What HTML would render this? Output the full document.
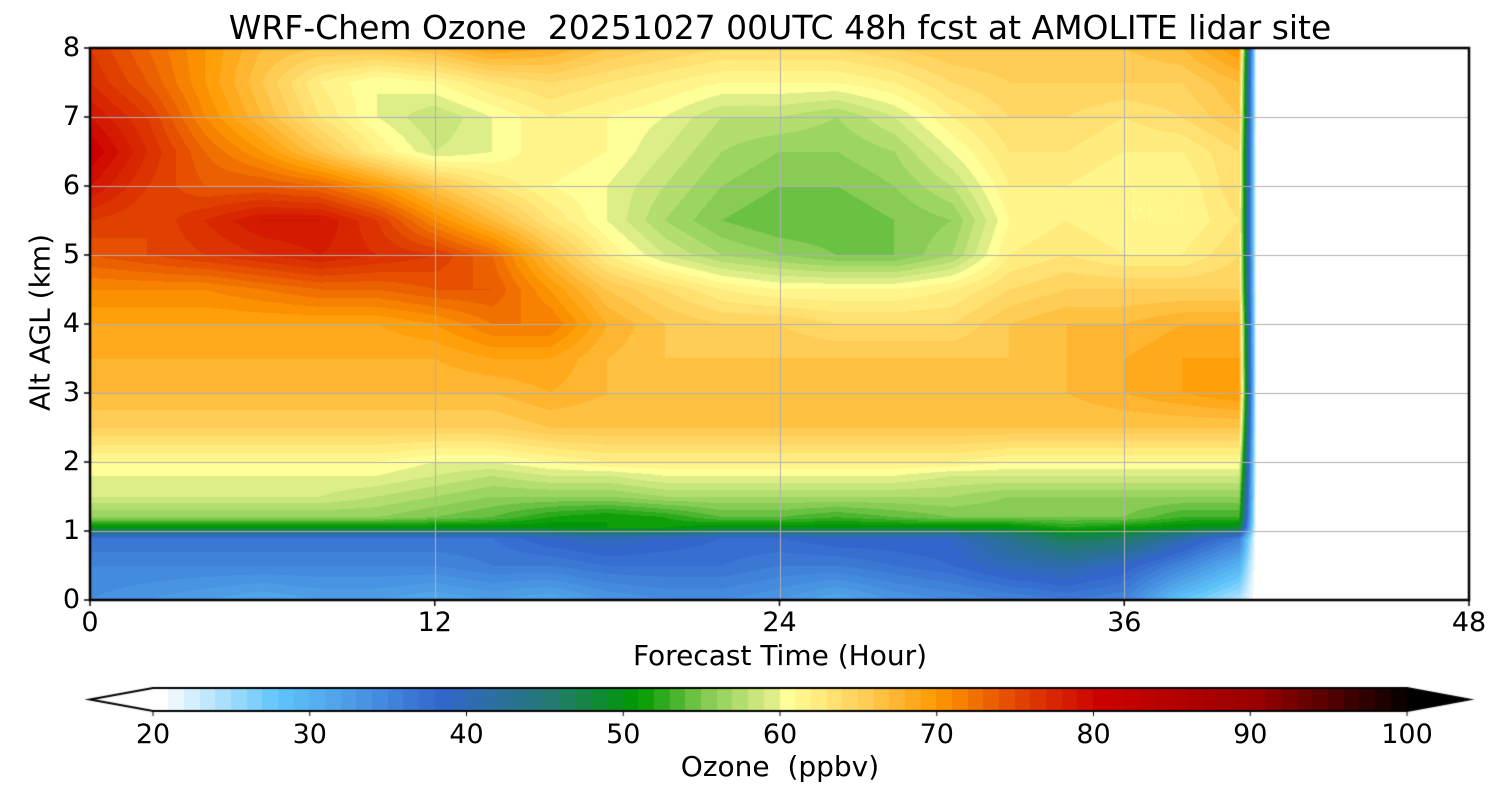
<!DOCTYPE html>
<html><head><meta charset="utf-8"><style>
body{margin:0;background:#fff;width:1500px;height:800px;overflow:hidden;font-family:"DejaVu Sans","Liberation Sans",sans-serif}
.t{position:absolute;color:#000;white-space:nowrap;font-family:"DejaVu Sans","Liberation Sans",sans-serif}
</style></head><body>
<div class="t" style="left:0;width:1560px;text-align:center;top:8px;font-size:33px">WRF-Chem Ozone&nbsp; 20251027 00UTC 48h fcst at AMOLITE lidar site</div>
<canvas id="c" width="1500" height="800" style="position:absolute;left:0;top:0"></canvas>
<div id="labels"></div>
<script>
const hours=[0,2,4,6,8,10,12,14,16,18,20,22,24,26,28,30,32,34,36,38,40,40.6];
const alts=[0,0.5,0.9,1.05,1.2,1.5,1.8,2,2.5,3,3.5,4,4.5,5,5.5,6,6.5,7,7.5,8];
const ozone=[
[34,33,32,31,32,32,31,32,31,33,34,34,33,31,33,34,35,36,35,28,24,20],
[35,35,35,35,35,35,35,36,36,37,37,37,36,36,37,38,40,41,39,35,30,20],
[37,37,37,37,37,37,37,37,39,40,39,38,38,39,39,39,43,47,46,41,36,20],
[50,50,50,50,50,50,50,50,50,51,51,50,50,50,50,50,50,52,51,50,49,20],
[56,56,56,56,56,56,55,54,52,51,52,54,54,53,54,55,55,55,55,53,53,20],
[59,59,59,59,59,58,57,56,56,56,57,57,57,57,57,57,56,56,56,56,56,20],
[60,60,60,60,60,60,59,58,59,59,60,60,60,60,60,59,59,59,59,59,59,20],
[61,61,61,61,61,61,60,60,61,62,62,62,62,62,62,62,61,61,61,61,61,20],
[65,65,65,65,65,65,65,65,66,66,66,66,66,66,66,66,66,66,66,66,66,20],
[67,67,67,67,67,67,67,67,68,67,67,67,67,67,67,67,67,67,68,69,70,20],
[68,68,68,68,68,68,68,69,69,67,66,66,66,66,66,66,66,67,68,69,69,20],
[69,69,69,69,69,69,70,72,72,68,66,65,65,64,64,64,66,67,67,68,68,20],
[71,71,71,72,73,73,74,74,70,66,64,62,61,61,61,62,64,65,65,65,65,20],
[74,75,76,77,78,77,76,73,67,62,59,57,56,55,55,57,62,63,62,62,64,20],
[76,75,77,79,79,76,71,67,63,60,57,55,54,54,55,56,61,62,61,61,63,20],
[79,76,74,74,73,70,66,63,61,60,58,56,55,55,56,58,62,62,61,61,64,20],
[81,77,73,70,66,62,59,60,62,61,59,57,56,56,57,60,63,63,62,62,64,20],
[79,76,71,67,63,60,58,60,62,61,60,58,58,57,59,62,64,64,63,64,66,20],
[77,74,70,66,62,60,61,63,64,63,62,61,61,61,62,64,65,65,65,65,67,20],
[76,73,70,67,66,66,67,69,68,66,65,64,64,64,65,66,66,66,66,67,70,20]];
const xTicks=[0,12,24,36,48];
const yTicks=[0,1,2,3,4,5,6,7,8];
const cbTicks=[20,30,40,50,60,70,80,90,100];
const stops=[[20,[255,255,255]],[27.5,[95,197,250]],[38,[51,102,204]],[45,[34,122,112]],[50.5,[0,153,0]],[55,[136,204,85]],[59,[221,238,136]],[60,[255,255,153]],[65,[255,204,85]],[69.5,[255,153,0]],[75,[224,64,0]],[80,[204,0,0]],[90,[153,0,0]],[100,[0,0,0]]];
function cmap(v){v=Math.max(20,Math.min(100,v));for(let i=1;i<stops.length;i++){if(v<=stops[i][0]){const a=stops[i-1],b=stops[i],t=(v-a[0])/(b[0]-a[0]);return a[1].map((c,k)=>Math.round(c+(b[1][k]-c)*t));}}return [0,0,0];}
const L=90,R=1469,T=48,B=600;
const X=h=>L+(h/48)*(R-L), Y=a=>B-(a/8)*(B-T);
function idx(arr,v){let i=0;while(i<arr.length-2&&v>arr[i+1])i++;return i;}
function val(h,a){const i=idx(hours,h),j=idx(alts,a);
const fx=Math.min(1,Math.max(0,(h-hours[i])/(hours[i+1]-hours[i]))),fy=Math.min(1,Math.max(0,(a-alts[j])/(alts[j+1]-alts[j])));
return ozone[j][i]*(1-fx)*(1-fy)+ozone[j][i+1]*fx*(1-fy)+ozone[j+1][i]*(1-fx)*fy+ozone[j+1][i+1]*fx*fy;}
const cv=document.getElementById('c'),ctx=cv.getContext('2d');
const img=ctx.createImageData(R-L,B-T);
const hEnd=hours[hours.length-1];
for(let py=0;py<B-T;py++){const a=(B-T-py-0.5)/(B-T)*8;for(let px=0;px<R-L;px++){const h=(px+0.5)/(R-L)*48;let c=[255,255,255];if(h<=hEnd){c=cmap(Math.floor(val(h,a)));}const o=(py*(R-L)+px)*4;img.data[o]=c[0];img.data[o+1]=c[1];img.data[o+2]=c[2];img.data[o+3]=255;}}
ctx.putImageData(img,L,T);
ctx.strokeStyle='#b0b0b0';ctx.lineWidth=1;
xTicks.forEach(h=>{ctx.beginPath();ctx.moveTo(Math.round(X(h))+0.5,T);ctx.lineTo(Math.round(X(h))+0.5,B);ctx.stroke();});
yTicks.forEach(a=>{ctx.beginPath();ctx.moveTo(L,Math.round(Y(a))+0.5);ctx.lineTo(R,Math.round(Y(a))+0.5);ctx.stroke();});
ctx.strokeStyle='#000';ctx.lineWidth=2.5;ctx.strokeRect(L,T,R-L,B-T);
ctx.lineWidth=1.5;
xTicks.forEach(h=>{ctx.beginPath();ctx.moveTo(X(h),B);ctx.lineTo(X(h),B+6);ctx.stroke();});
yTicks.forEach(a=>{ctx.beginPath();ctx.moveTo(L,Y(a));ctx.lineTo(L-6,Y(a));ctx.stroke();});
const cL=153,cR=1407,cT=688,cB=711,CX=v=>cL+(v-20)/80*(cR-cL);
for(let v=20;v<100;v++){const c=cmap(v);ctx.fillStyle=`rgb(${c})`;ctx.fillRect(Math.floor(CX(v)),cT,Math.ceil(CX(v+1)-CX(v))+1,cB-cT);}
ctx.fillStyle='#000';ctx.beginPath();ctx.moveTo(cR,cT);ctx.lineTo(1469,(cT+cB)/2);ctx.lineTo(cR,cB);ctx.fill();
ctx.lineWidth=2;ctx.beginPath();ctx.moveTo(cL,cT);ctx.lineTo(cR,cT);ctx.lineTo(1469,(cT+cB)/2);ctx.lineTo(cR,cB);ctx.lineTo(cL,cB);ctx.lineTo(90,(cT+cB)/2);ctx.closePath();ctx.stroke();
ctx.lineWidth=1;cbTicks.forEach(v=>{ctx.beginPath();ctx.moveTo(CX(v),cB);ctx.lineTo(CX(v),cB+5);ctx.stroke();});
const lab=document.getElementById('labels');
function addLabel(txt,x,y,name,al){const d=document.createElement('div');d.className='t';d.textContent=txt;


d.style.fontSize='27px';d.style.top=(y-16)+'px';
if(al==='r'){d.style.right=(1500-x)+'px';}else{d.style.left=(x-60)+'px';d.style.width='120px';d.style.textAlign='center';}lab.appendChild(d);}
xTicks.forEach(h=>addLabel(String(h),X(h),623,'x-tick-label'));
yTicks.forEach(a=>addLabel(String(a),80,Y(a),'y-tick-label','r'));
cbTicks.forEach(v=>addLabel(String(v),CX(v),735,'colorbar-tick-label'));
</script>
<div class="t" style="left:0;width:1560px;text-align:center;top:639px;font-size:28px">Forecast Time (Hour)</div>
<div class="t" style="left:-60px;top:306px;width:200px;text-align:center;font-size:28px;transform:rotate(-90deg)">Alt AGL (km)</div>
<div class="t" style="left:0;width:1560px;text-align:center;top:750px;font-size:28px">Ozone&nbsp; (ppbv)</div>
</body></html>
